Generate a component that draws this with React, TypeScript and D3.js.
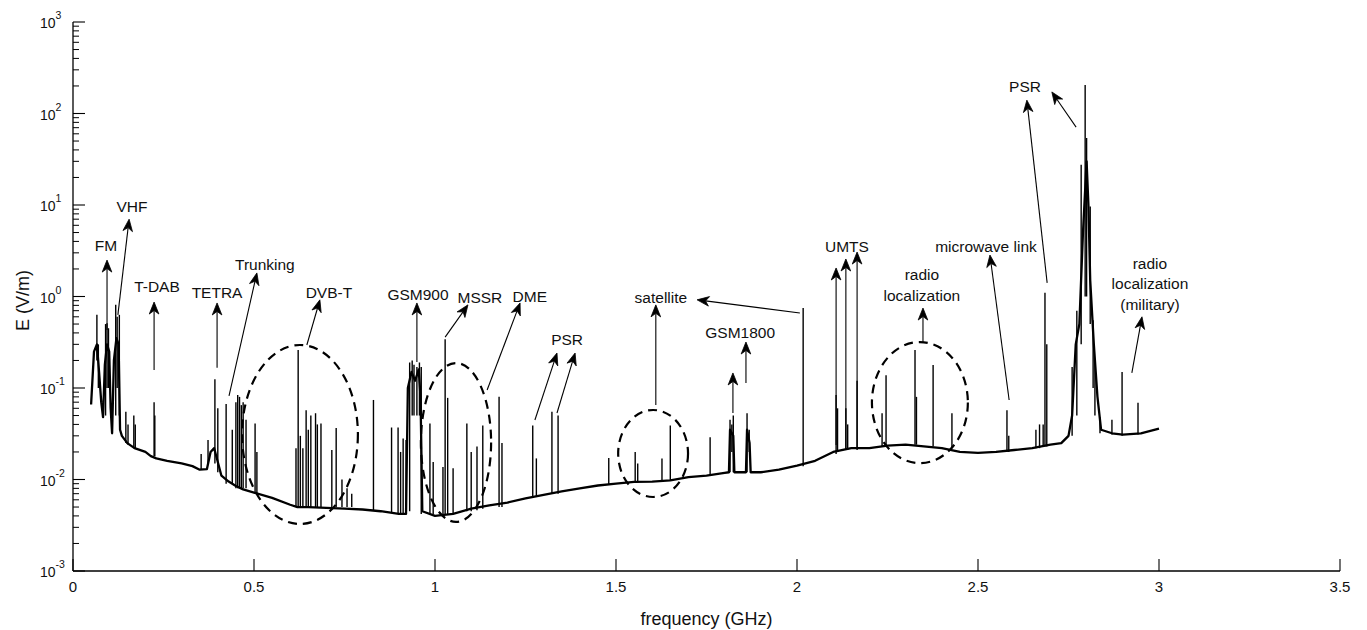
import * as d3 from 'd3'

// slowly varying measured floor: [frequency GHz, E V/m]
const floorPts: [number, number][] = [
  [0.050, 0.066], [0.058, 0.25], [0.066, 0.30], [0.072, 0.15], [0.078, 0.07],
  [0.083, 0.048], [0.088, 0.18], [0.094, 0.30], [0.100, 0.25], [0.104, 0.06],
  [0.108, 0.032], [0.113, 0.20], [0.120, 0.35], [0.126, 0.30], [0.130, 0.035],
  [0.135, 0.030], [0.150, 0.025], [0.170, 0.022], [0.200, 0.020], [0.215, 0.018],
  [0.230, 0.017], [0.260, 0.016], [0.300, 0.015], [0.330, 0.014], [0.350, 0.0128],
  [0.370, 0.013], [0.380, 0.020], [0.390, 0.022], [0.410, 0.011], [0.430, 0.0095],
  [0.450, 0.0085], [0.470, 0.0078], [0.500, 0.0072], [0.550, 0.0063], [0.600, 0.0053],
  [0.620, 0.0050], [0.650, 0.0050], [0.700, 0.0049], [0.750, 0.0048], [0.800, 0.0047],
  [0.850, 0.0045], [0.900, 0.0042], [0.920, 0.0042], [0.925, 0.10], [0.935, 0.15],
  [0.945, 0.12], [0.955, 0.16], [0.960, 0.08], [0.965, 0.0045], [1.000, 0.0040],
  [1.050, 0.0042], [1.100, 0.0048], [1.150, 0.0052], [1.200, 0.0056], [1.250, 0.0062],
  [1.300, 0.0068], [1.350, 0.0074], [1.400, 0.0080], [1.450, 0.0086], [1.500, 0.0090],
  [1.550, 0.0094], [1.600, 0.0095], [1.650, 0.0098], [1.700, 0.0106], [1.750, 0.0110],
  [1.800, 0.0118], [1.812, 0.012], [1.815, 0.035], [1.824, 0.03], [1.827, 0.012],
  [1.859, 0.012], [1.862, 0.035], [1.869, 0.025], [1.872, 0.012], [1.900, 0.0120],
  [1.950, 0.0128], [2.000, 0.0142], [2.050, 0.0160], [2.100, 0.0200], [2.150, 0.0220],
  [2.200, 0.0220], [2.250, 0.0235], [2.300, 0.0240], [2.350, 0.0230], [2.400, 0.0220],
  [2.450, 0.0200], [2.500, 0.0195], [2.550, 0.0200], [2.600, 0.0210], [2.650, 0.0220],
  [2.700, 0.0240], [2.730, 0.0250], [2.750, 0.0300], [2.760, 0.05], [2.770, 0.3],
  [2.780, 0.5], [2.790, 5], [2.800, 30], [2.805, 10], [2.810, 1.5], [2.820, 0.3],
  [2.830, 0.08], [2.840, 0.035], [2.870, 0.032], [2.900, 0.031], [2.950, 0.032],
  [3.000, 0.036],
]

// narrow emissions: [frequency GHz, floor V/m, peak V/m]
const spikes: [number, number, number][] = [
  [0.066, 0.2, 0.63], [0.070, 0.1, 0.3], [0.090, 0.05, 0.5], [0.094, 0.1, 0.51],
  [0.098, 0.1, 0.45], [0.118, 0.05, 0.81], [0.122, 0.1, 0.6], [0.128, 0.05, 0.63],
  [0.146, 0.025, 0.055], [0.152, 0.024, 0.04], [0.168, 0.022, 0.05], [0.172, 0.022, 0.04],
  [0.224, 0.018, 0.07], [0.226, 0.018, 0.05], [0.354, 0.013, 0.019], [0.373, 0.015, 0.027],
  [0.392, 0.015, 0.125], [0.400, 0.012, 0.06], [0.423, 0.009, 0.067], [0.440, 0.009, 0.035],
  [0.450, 0.008, 0.07], [0.455, 0.008, 0.084], [0.460, 0.008, 0.08], [0.465, 0.008, 0.065],
  [0.470, 0.008, 0.07], [0.478, 0.008, 0.045], [0.503, 0.007, 0.041], [0.508, 0.007, 0.02],
  [0.616, 0.005, 0.022], [0.622, 0.005, 0.26], [0.628, 0.005, 0.03], [0.635, 0.005, 0.022],
  [0.644, 0.005, 0.057], [0.650, 0.005, 0.035], [0.657, 0.005, 0.05], [0.670, 0.005, 0.053],
  [0.675, 0.005, 0.04], [0.685, 0.005, 0.041], [0.715, 0.005, 0.021], [0.727, 0.005, 0.0366],
  [0.743, 0.005, 0.01], [0.757, 0.005, 0.008], [0.770, 0.005, 0.007], [0.830, 0.0046, 0.074],
  [0.880, 0.0044, 0.037], [0.898, 0.0043, 0.037], [0.905, 0.0043, 0.02], [0.912, 0.0043, 0.028],
  [0.920, 0.0043, 0.027], [0.930, 0.0045, 0.19], [0.937, 0.05, 0.2], [0.942, 0.05, 0.18],
  [0.950, 0.05, 0.17], [0.957, 0.05, 0.19], [0.962, 0.0042, 0.17], [0.986, 0.0042, 0.041],
  [0.995, 0.0042, 0.0155], [1.022, 0.0042, 0.0137], [1.028, 0.0042, 0.34], [1.035, 0.0042, 0.078],
  [1.050, 0.0042, 0.0133], [1.088, 0.0045, 0.041], [1.100, 0.0045, 0.02], [1.116, 0.0046, 0.023],
  [1.132, 0.0048, 0.039], [1.177, 0.005, 0.08], [1.185, 0.005, 0.025], [1.270, 0.0065, 0.039],
  [1.280, 0.0065, 0.017], [1.323, 0.007, 0.055], [1.340, 0.007, 0.05], [1.480, 0.0088, 0.0172],
  [1.553, 0.0093, 0.02], [1.560, 0.0093, 0.015], [1.627, 0.0095, 0.017], [1.650, 0.0097, 0.039],
  [1.760, 0.011, 0.029], [1.815, 0.012, 0.045], [1.820, 0.02, 0.04], [1.824, 0.012, 0.05],
  [1.862, 0.012, 0.053], [1.868, 0.02, 0.035], [2.017, 0.014, 0.75], [2.108, 0.019, 0.084],
  [2.112, 0.02, 0.06], [2.135, 0.021, 0.06], [2.140, 0.021, 0.04], [2.166, 0.021, 0.12],
  [2.235, 0.023, 0.053], [2.246, 0.023, 0.138], [2.326, 0.024, 0.26], [2.330, 0.024, 0.08],
  [2.376, 0.023, 0.178], [2.428, 0.022, 0.053], [2.580, 0.02, 0.057], [2.585, 0.02, 0.03],
  [2.660, 0.022, 0.035], [2.670, 0.022, 0.04], [2.680, 0.023, 0.04], [2.685, 0.023, 1.1],
  [2.690, 0.023, 0.3], [2.760, 0.03, 0.17], [2.773, 0.05, 0.7], [2.785, 0.3, 27.5],
  [2.796, 1, 205], [2.800, 1, 54], [2.810, 0.5, 9.6], [2.818, 0.1, 0.55], [2.823, 0.05, 0.2],
  [2.837, 0.032, 0.048], [2.870, 0.031, 0.045], [2.898, 0.03, 0.15], [2.942, 0.031, 0.069],
]

const xTicks = [0, 0.5, 1, 1.5, 2, 2.5, 3, 3.5]
const yDecades = [-3, -2, -1, 0, 1, 2, 3]

// annotation text: [lines, centre GHz, first baseline V/m]
const labels: [string[], number, number][] = [
  [['FM'], 0.091, 3.14],
  [['VHF'], 0.163, 8.4],
  [['T-DAB'], 0.232, 1.12],
  [['TETRA'], 0.398, 0.96],
  [['Trunking'], 0.53, 1.95],
  [['DVB-T'], 0.707, 0.96],
  [['GSM900'], 0.953, 0.92],
  [['MSSR'], 1.124, 0.85],
  [['DME'], 1.262, 0.87],
  [['PSR'], 1.365, 0.295],
  [['satellite'], 1.624, 0.85],
  [['GSM1800'], 1.843, 0.351],
  [['UMTS'], 2.138, 3.06],
  [['radio', 'localization'], 2.345, 1.51],
  [['microwave link'], 2.522, 3.06],
  [['PSR'], 2.63, 172],
  [['radio', 'localization', '(military)'], 2.975, 2.0],
]

// arrows: [tail GHz, tail V/m, tip GHz, tip V/m]
const arrows: [number, number, number, number][] = [
  [0.094, 0.43, 0.094, 2.5],
  [0.124, 0.63, 0.155, 7.0],
  [0.224, 0.157, 0.224, 0.87],
  [0.398, 0.166, 0.398, 0.85],
  [0.431, 0.082, 0.508, 1.81],
  [0.646, 0.295, 0.682, 0.92],
  [0.95, 0.192, 0.95, 0.85],
  [1.028, 0.36, 1.091, 0.81],
  [1.144, 0.095, 1.235, 0.85],
  [1.276, 0.0447, 1.337, 0.241],
  [1.337, 0.0533, 1.387, 0.241],
  [1.61, 0.065, 1.61, 0.81],
  [2.008, 0.66, 1.724, 0.92],
  [1.823, 0.0533, 1.823, 0.146],
  [1.859, 0.1135, 1.859, 0.318],
  [2.108, 0.0238, 2.108, 2.05],
  [2.135, 0.021, 2.135, 2.57],
  [2.166, 0.0227, 2.166, 3.06],
  [2.348, 0.318, 2.348, 0.748],
  [2.586, 0.074, 2.533, 2.84],
  [2.691, 1.41, 2.635, 140],
  [2.771, 71, 2.704, 172],
  [2.925, 0.146, 2.953, 0.6],
]

// dashed groupings: [left GHz, right GHz, bottom V/m, top V/m]
const rings: [number, number, number, number][] = [
  [0.467, 0.787, 0.00327, 0.295],
  [0.961, 1.155, 0.00344, 0.1875],
  [1.506, 1.699, 0.00644, 0.0575],
  [2.207, 2.472, 0.0151, 0.318],
]

const W = 1367
const H = 630
const left = 73
const right = 1340
const top = 22
const bottom = 571
const font = '"Liberation Sans", Arial, sans-serif'
const ink = '#000'

const x = d3.scaleLinear().domain([0, 3.5]).range([left, right])
const y = d3.scaleLog().domain([1e-3, 1e3]).range([bottom, top])

const floorLine = d3.line<[number, number]>()
  .x(d => x(d[0]))
  .y(d => y(d[1]))

function arrowShape(t: [number, number, number, number]) {
  const x0 = x(t[0]), y0 = y(t[1]), x1 = x(t[2]), y1 = y(t[3])
  const len = Math.hypot(x1 - x0, y1 - y0)
  const ux = (x1 - x0) / len, uy = (y1 - y0) / len
  const nx = -uy, ny = ux
  const L = 12, w = 4.8, notch = 3.5
  const bx = x1 - L * ux, by = y1 - L * uy
  const head = `M${x1},${y1}L${bx + w * nx},${by + w * ny}L${x1 - (L - notch) * ux},${y1 - (L - notch) * uy}L${bx - w * nx},${by - w * ny}Z`
  return { shaft: [x0, y0, x1 - (L - notch) * ux, y1 - (L - notch) * uy], head }
}

export default function App() {
  const minor: number[] = []
  yDecades.slice(0, -1).forEach(d => {
    for (let k = 2; k <= 9; k++) minor.push(k * Math.pow(10, d))
  })

  return (
    <svg width={W} height={H} style={{ position: 'absolute', left: 0, top: 0, background: '#fff' }}
      fontFamily={font}>
      {/* spectrum */}
      <path d={floorLine(floorPts) ?? ''} fill="none" stroke={ink} strokeWidth={2.3} strokeLinejoin="round" />
      {spikes.map((s, i) => (
        <line key={'s' + i} x1={x(s[0])} x2={x(s[0])} y1={y(s[1])} y2={y(s[2])} stroke={ink} strokeWidth={1.4} />
      ))}

      {/* dashed ellipses */}
      {rings.map((r, i) => {
        const cx = (x(r[0]) + x(r[1])) / 2
        const cy = (y(r[2]) + y(r[3])) / 2
        return (
          <ellipse key={'r' + i} cx={cx} cy={cy} rx={(x(r[1]) - x(r[0])) / 2} ry={(y(r[2]) - y(r[3])) / 2}
            fill="none" stroke={ink} strokeWidth={2.2} strokeDasharray="9,6" />
        )
      })}

      {/* arrows */}
      {arrows.map((a, i) => {
        const s = arrowShape(a)
        return (
          <g key={'a' + i}>
            <line x1={s.shaft[0]} y1={s.shaft[1]} x2={s.shaft[2]} y2={s.shaft[3]} stroke={ink} strokeWidth={1.1} />
            <path d={s.head} fill={ink} stroke={ink} strokeWidth={0.8} strokeLinejoin="miter" />
          </g>
        )
      })}

      {/* labels */}
      {labels.map((l, i) => (
        <text key={'l' + i} x={x(l[1])} y={y(l[2])} textAnchor="middle" fontSize={15.5} fill="#111">
          {l[0].map((t, j) => (
            <tspan key={j} x={x(l[1])} dy={j === 0 ? 0 : 20.5}>{t}</tspan>
          ))}
        </text>
      ))}

      {/* axes */}
      <line x1={left} x2={right} y1={bottom} y2={bottom} stroke={ink} strokeWidth={1.3} />
      <line x1={left} x2={left} y1={top} y2={bottom} stroke={ink} strokeWidth={1.3} />
      {xTicks.map(t => (
        <g key={'xt' + t}>
          <line x1={x(t)} x2={x(t)} y1={bottom} y2={bottom - 12} stroke={ink} strokeWidth={1.1} />
          <text x={x(t)} y={bottom + 21} textAnchor="middle" fontSize={15} fill="#111">{t}</text>
        </g>
      ))}
      {yDecades.map(d => (
        <g key={'yt' + d}>
          <line x1={left} x2={left + 12} y1={y(Math.pow(10, d))} y2={y(Math.pow(10, d))} stroke={ink} strokeWidth={1.1} />
          <text x={40} y={y(Math.pow(10, d)) + 6} fontSize={14} fill="#111">
            10<tspan dy={-9} fontSize={10.5}>{d}</tspan>
          </text>
        </g>
      ))}
      {minor.map((v, i) => (
        <line key={'ym' + i} x1={left} x2={left + 6} y1={y(v)} y2={y(v)} stroke={ink} strokeWidth={1} />
      ))}

      <text x={(left + right) / 2} y={625} textAnchor="middle" fontSize={18} fill="#111">frequency (GHz)</text>
      <text transform={`translate(29,${(top + bottom) / 2 + 4}) rotate(-90)`} textAnchor="middle" fontSize={18} fill="#111">E (V/m)</text>
    </svg>
  )
}
